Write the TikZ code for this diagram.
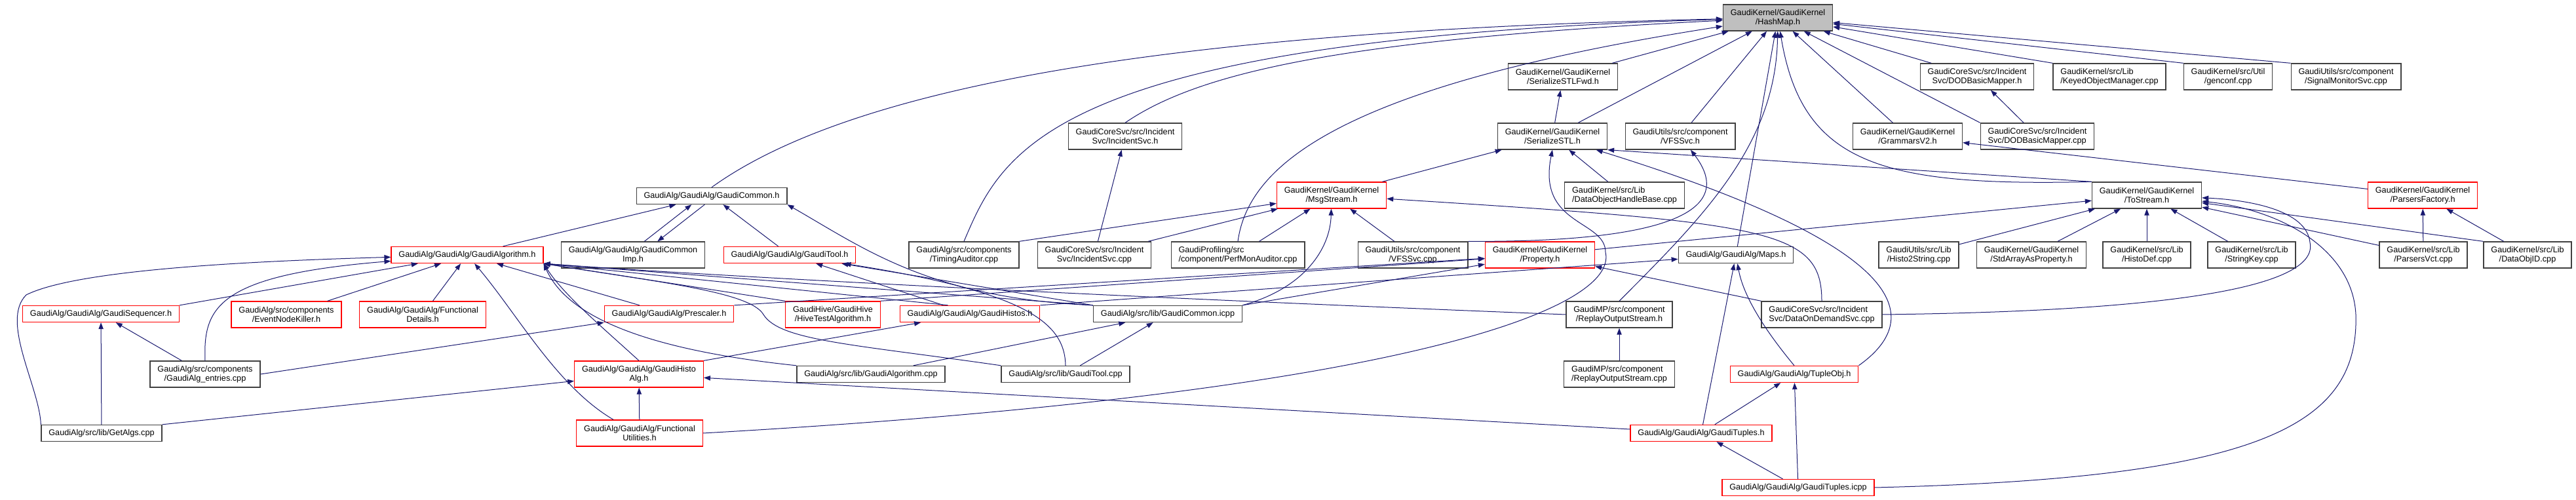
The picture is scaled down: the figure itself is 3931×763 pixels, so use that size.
\documentclass[tikz,border=0pt]{standalone}
\usepackage{fontspec}
\setmainfont{Liberation Sans}
\usetikzlibrary{arrows.meta}
\definecolor{edgeblue}{HTML}{191970}
\tikzset{
  file/.style={
    draw=black!75,
    line width=1pt,
    align=center,
    inner xsep=8.5pt,
    inner ysep=2pt,
    minimum height=18.75pt,
    font=\fontsize{9.5}{10.3}\selectfont
  },
  trunc/.style={
    file,
    draw=red
  },
  root/.style={
    file,
    fill=black!25
  },
  two/.style={
    minimum height=30pt
  },
  twol/.style={
    minimum height=30pt,
    align=left
  },
  inc/.style={
    draw=edgeblue,
    line width=0.75pt,
    -{Triangle[length=7.5pt,width=5.5pt]}
  }
}

\begin{document}
\begin{tikzpicture}[x=0.75pt, y=-0.75pt]
  \useasboundingbox (0,0) rectangle (3931,763);

  \node[root, two] (hm) at (2713,27) {GaudiKernel/GaudiKernel\\/HashMap.h};

  \node[file, two] (stlfwd) at (2385,117) {GaudiKernel/GaudiKernel\\/SerializeSTLFwd.h};
  \node[file, two] (dodh) at (3017,117) {GaudiCoreSvc/src/Incident\\Svc/DODBasicMapper.h};
  \node[file, twol] (keyed) at (3219,117) {GaudiKernel/src/Lib\\/KeyedObjectManager.cpp};
  \node[file, two] (genconf) at (3400,117) {GaudiKernel/src/Util\\/genconf.cpp};
  \node[file, two] (sigmon) at (3580,117) {GaudiUtils/src/component\\/SignalMonitorSvc.cpp};

  \node[file, two] (isvch) at (1717,208) {GaudiCoreSvc/src/Incident\\Svc/IncidentSvc.h};
  \node[file, two] (stl) at (2369,208) {GaudiKernel/GaudiKernel\\/SerializeSTL.h};
  \node[file, two] (vfsh) at (2564,208) {GaudiUtils/src/component\\/VFSSvc.h};
  \node[file, two] (grammars) at (2911,208) {GaudiKernel/GaudiKernel\\/GrammarsV2.h};
  \node[file, twol] (dodcpp) at (3109,208) {GaudiCoreSvc/src/Incident\\Svc/DODBasicMapper.cpp};

  \node[file] (gcommon) at (1086,299) {GaudiAlg/GaudiAlg/GaudiCommon.h};
  \node[trunc, two] (msgstream) at (2032,298) {GaudiKernel/GaudiKernel\\/MsgStream.h};
  \node[file, twol] (dohb) at (2479,298) {GaudiKernel/src/Lib\\/DataObjectHandleBase.cpp};
  \node[file, two] (tostream) at (3276,298) {GaudiKernel/GaudiKernel\\/ToStream.h};
  \node[trunc, two] (pfactory) at (3697,298) {GaudiKernel/GaudiKernel\\/ParsersFactory.h};

  \node[trunc] (galgh) at (713,389) {GaudiAlg/GaudiAlg/GaudiAlgorithm.h};
  \node[file, two] (gcimp) at (966,389) {GaudiAlg/GaudiAlg/GaudiCommon\\Imp.h};
  \node[trunc] (gtoolh) at (1205,389) {GaudiAlg/GaudiAlg/GaudiTool.h};
  \node[file, two] (timing) at (1471,389) {GaudiAlg/src/components\\/TimingAuditor.cpp};
  \node[file, two] (isvccpp) at (1670,389) {GaudiCoreSvc/src/Incident\\Svc/IncidentSvc.cpp};
  \node[file, twol] (perfmon) at (1889,389) {GaudiProfiling/src\\/component/PerfMonAuditor.cpp};
  \node[file, two] (vfscpp) at (2156,389) {GaudiUtils/src/component\\/VFSSvc.cpp};
  \node[trunc, two] (property) at (2350,389) {GaudiKernel/GaudiKernel\\/Property.h};
  \node[file] (maps) at (2649,389) {GaudiAlg/GaudiAlg/Maps.h};
  \node[file, two] (histo2str) at (2928,389) {GaudiUtils/src/Lib\\/Histo2String.cpp};
  \node[file, two] (stdarray) at (3100,389) {GaudiKernel/GaudiKernel\\/StdArrayAsProperty.h};
  \node[file, two] (histodef) at (3276,389) {GaudiKernel/src/Lib\\/HistoDef.cpp};
  \node[file, two] (stringkey) at (3436,389) {GaudiKernel/src/Lib\\/StringKey.cpp};
  \node[file, two] (pvct) at (3698,389) {GaudiKernel/src/Lib\\/ParsersVct.cpp};
  \node[file, two] (dataobjid) at (3857,389) {GaudiKernel/src/Lib\\/DataObjID.cpp};

  \node[trunc] (gseq) at (154,479) {GaudiAlg/GaudiAlg/GaudiSequencer.h};
  \node[trunc, two] (enk) at (437,480) {GaudiAlg/src/components\\/EventNodeKiller.h};
  \node[trunc, two] (fdet) at (645,480) {GaudiAlg/GaudiAlg/Functional\\Details.h};
  \node[trunc] (prescaler) at (1021,479) {GaudiAlg/GaudiAlg/Prescaler.h};
  \node[trunc, two] (hive) at (1271,480) {GaudiHive/GaudiHive\\/HiveTestAlgorithm.h};
  \node[trunc] (ghistos) at (1480,479) {GaudiAlg/GaudiAlg/GaudiHistos.h};
  \node[file] (gcicpp) at (1782,479) {GaudiAlg/src/lib/GaudiCommon.icpp};
  \node[file, two] (replayh) at (2471,480) {GaudiMP/src/component\\/ReplayOutputStream.h};
  \node[file, twol] (dod) at (2780,480) {GaudiCoreSvc/src/Incident\\Svc/DataOnDemandSvc.cpp};

  \node[file, two] (entries) at (313,571) {GaudiAlg/src/components\\/GaudiAlg\_entries.cpp};
  \node[trunc, two] (ghistoalg) at (975,571) {GaudiAlg/GaudiAlg/GaudiHisto\\Alg.h};
  \node[file] (galgcpp) at (1329,571) {GaudiAlg/src/lib/GaudiAlgorithm.cpp};
  \node[file] (gtoolcpp) at (1626,571) {GaudiAlg/src/lib/GaudiTool.cpp};
  \node[file, twol] (replaycpp) at (2471,571) {GaudiMP/src/component\\/ReplayOutputStream.cpp};
  \node[trunc] (tupleobj) at (2738,571) {GaudiAlg/GaudiAlg/TupleObj.h};

  \node[file] (getalgs) at (155,661) {GaudiAlg/src/lib/GetAlgs.cpp};
  \node[trunc, two] (funcutil) at (976,661) {GaudiAlg/GaudiAlg/Functional\\Utilities.h};
  \node[trunc] (gtuplesh) at (2596,661) {GaudiAlg/GaudiAlg/GaudiTuples.h};

  \node[trunc] (tuplesicpp) at (2744,744) {GaudiAlg/GaudiAlg/GaudiTuples.icpp};

  \draw[inc] (gcommon.north) .. controls (1330,110) and (1900,45) .. (hm);
  \draw[inc] (timing.north) .. controls (1530,230) and (1600,60) .. (hm);
  \draw[inc] (isvch.north) .. controls (1830,110) and (2050,60) .. (hm);
  \draw[inc] (perfmon.north) .. controls (1905,250) and (2050,130) .. (hm);
  \draw[inc] (stlfwd) -- (hm);
  \draw[inc] (stl) -- (hm);
  \draw[inc] (vfsh) -- (hm);
  \draw[inc] (replayh.north) .. controls (2600,330) and (2710,220) .. (hm);
  \draw[inc] (maps) -- (hm);
  \draw[inc] (tostream.north west) .. controls (2870,285) and (2750,250) .. (hm);
  \draw[inc] (grammars) -- (hm);
  \draw[inc] (dodcpp.north west) -- (hm);
  \draw[inc] (dodh) -- (hm);
  \draw[inc] (keyed.north west) -- (hm);
  \draw[inc] (genconf.north west) -- (hm);
  \draw[inc] (sigmon.north west) -- (hm);

  \draw[inc] (stl) -- (stlfwd);
  \draw[inc] (msgstream) -- (stl);
  \draw[inc] (dohb) -- (stl);
  \draw[inc] (tupleobj.north east) .. controls (2960,470) and (2860,360) .. (stl);
  \draw[inc] (tostream.north west) -- (stl.south east);
  \draw[inc] (funcutil.east) .. controls (2150,600) and (2470,470) .. (2450,385)
    .. controls (2450,335) and (2345,345) .. (stl.south);
  \draw[inc] (vfscpp.north east) .. controls (2550,370) and (2650,320) .. (vfsh);
  \draw[inc] (isvccpp) -- (isvch);
  \draw[inc] (pfactory) -- (grammars);
  \draw[inc] (dodcpp) -- (dodh);

  \draw[inc] (timing.north east) -- (msgstream);
  \draw[inc] (isvccpp) -- (msgstream);
  \draw[inc] (perfmon) -- (msgstream);
  \draw[inc] (gcicpp.north east) .. controls (1990,440) and (2030,380) .. (msgstream);
  \draw[inc] (vfscpp) -- (msgstream);
  \draw[inc] (dod.north) .. controls (2780,350) and (2700,340) .. (msgstream);

  \draw[inc] (property) -- (tostream);
  \draw[inc] (histo2str) -- (tostream);
  \draw[inc] (stdarray) -- (tostream);
  \draw[inc] (histodef) -- (tostream);
  \draw[inc] (stringkey) -- (tostream);
  \draw[inc] (pvct) -- (tostream);
  \draw[inc] (dataobjid.north west) -- (tostream);
  \draw[inc] (dod.east) .. controls (3300,475) and (3540,440) .. (3525,370)
    .. controls (3520,320) and (3430,305) .. (tostream);
  \draw[inc] (tuplesicpp.east) .. controls (3450,730) and (3600,650) .. (3595,480)
    .. controls (3590,380) and (3480,320) .. (tostream);
  \draw[inc] (pvct) -- (pfactory);
  \draw[inc] (dataobjid) -- (pfactory);

  \draw[inc] (prescaler.north east) -- (property);
  \draw[inc] (hive.north east) -- (property);
  \draw[inc] (gcicpp.north east) -- (property);
  \draw[inc] (dod.north west) -- (property);
  \draw[inc] (ghistos.north east) -- (maps);
  \draw[inc] (gtuplesh) -- (maps);
  \draw[inc] (tupleobj.north) .. controls (2690,500) and (2660,450) .. (maps);
  \draw[inc] (gtuplesh) -- (tupleobj);
  \draw[inc] (tuplesicpp) -- (tupleobj);
  \draw[inc] (tuplesicpp) -- (gtuplesh);
  \draw[inc] (replaycpp) -- (replayh);

  \draw[inc] (galgh) -- (gcommon);
  \draw[inc] ([xshift=13pt]gcimp.north) -- ([xshift=-23pt]gcommon.south);
  \draw[inc] ([xshift=-8pt]gcommon.south) -- ([xshift=28pt]gcimp.north);
  \draw[inc] (gtoolh) -- (gcommon);
  \draw[inc] (gcicpp.north west) .. controls (1420,455) and (1320,380) .. (gcommon.south east);

  \draw[inc] (gcicpp.north west) -- (gtoolh);
  \draw[inc] (gtoolcpp.north) .. controls (1625,490) and (1560,445) .. (gtoolh);
  \draw[inc] (ghistos) -- (gtoolh);

  \draw[inc] (getalgs.north west) .. controls (60,590) and (0,490) .. (40,450)
    .. controls (120,410) and (400,398) .. (galgh);
  \draw[inc] (entries.north) .. controls (310,470) and (330,420) .. (galgh);
  \draw[inc] (gseq.north east) -- (galgh);
  \draw[inc] (enk) -- (galgh);
  \draw[inc] (fdet) -- (galgh);
  \draw[inc] (prescaler) -- (galgh);
  \draw[inc] (hive.north west) -- (galgh.south east);
  \draw[inc] ([xshift=-25pt]ghistos.north) -- (galgh.south east);
  \draw[inc] (gcicpp.north west) -- (galgh.south east);
  \draw[inc] (replayh.west) .. controls (1500,445) and (1000,415) .. (galgh.south east);
  \draw[inc] (galgcpp.north west) .. controls (950,530) and (860,470) .. (galgh.south east);
  \draw[inc] (gtoolcpp.north west) .. controls (1300,525) and (1190,520) .. (1165,480)
    .. controls (1145,445) and (1000,430) .. (galgh.south east);
  \draw[inc] (ghistoalg.north) .. controls (920,500) and (860,450) .. (galgh.south east);
  \draw[inc] ([xshift=-30pt]funcutil.north) .. controls (850,590) and (790,480) .. (galgh);

  \draw[inc] (ghistoalg.north east) -- (ghistos);
  \draw[inc] (entries) -- (gseq);
  \draw[inc] (getalgs) -- (gseq);
  \draw[inc] (entries.east) -- (prescaler.south west);
  \draw[inc] (getalgs.north east) -- (ghistoalg);
  \draw[inc] (funcutil) -- (ghistoalg);
  \draw[inc] (gtuplesh) -- (ghistoalg);
  \draw[inc] (galgcpp) -- (gcicpp);
  \draw[inc] (gtoolcpp) -- (gcicpp);
\end{tikzpicture}
\end{document}
